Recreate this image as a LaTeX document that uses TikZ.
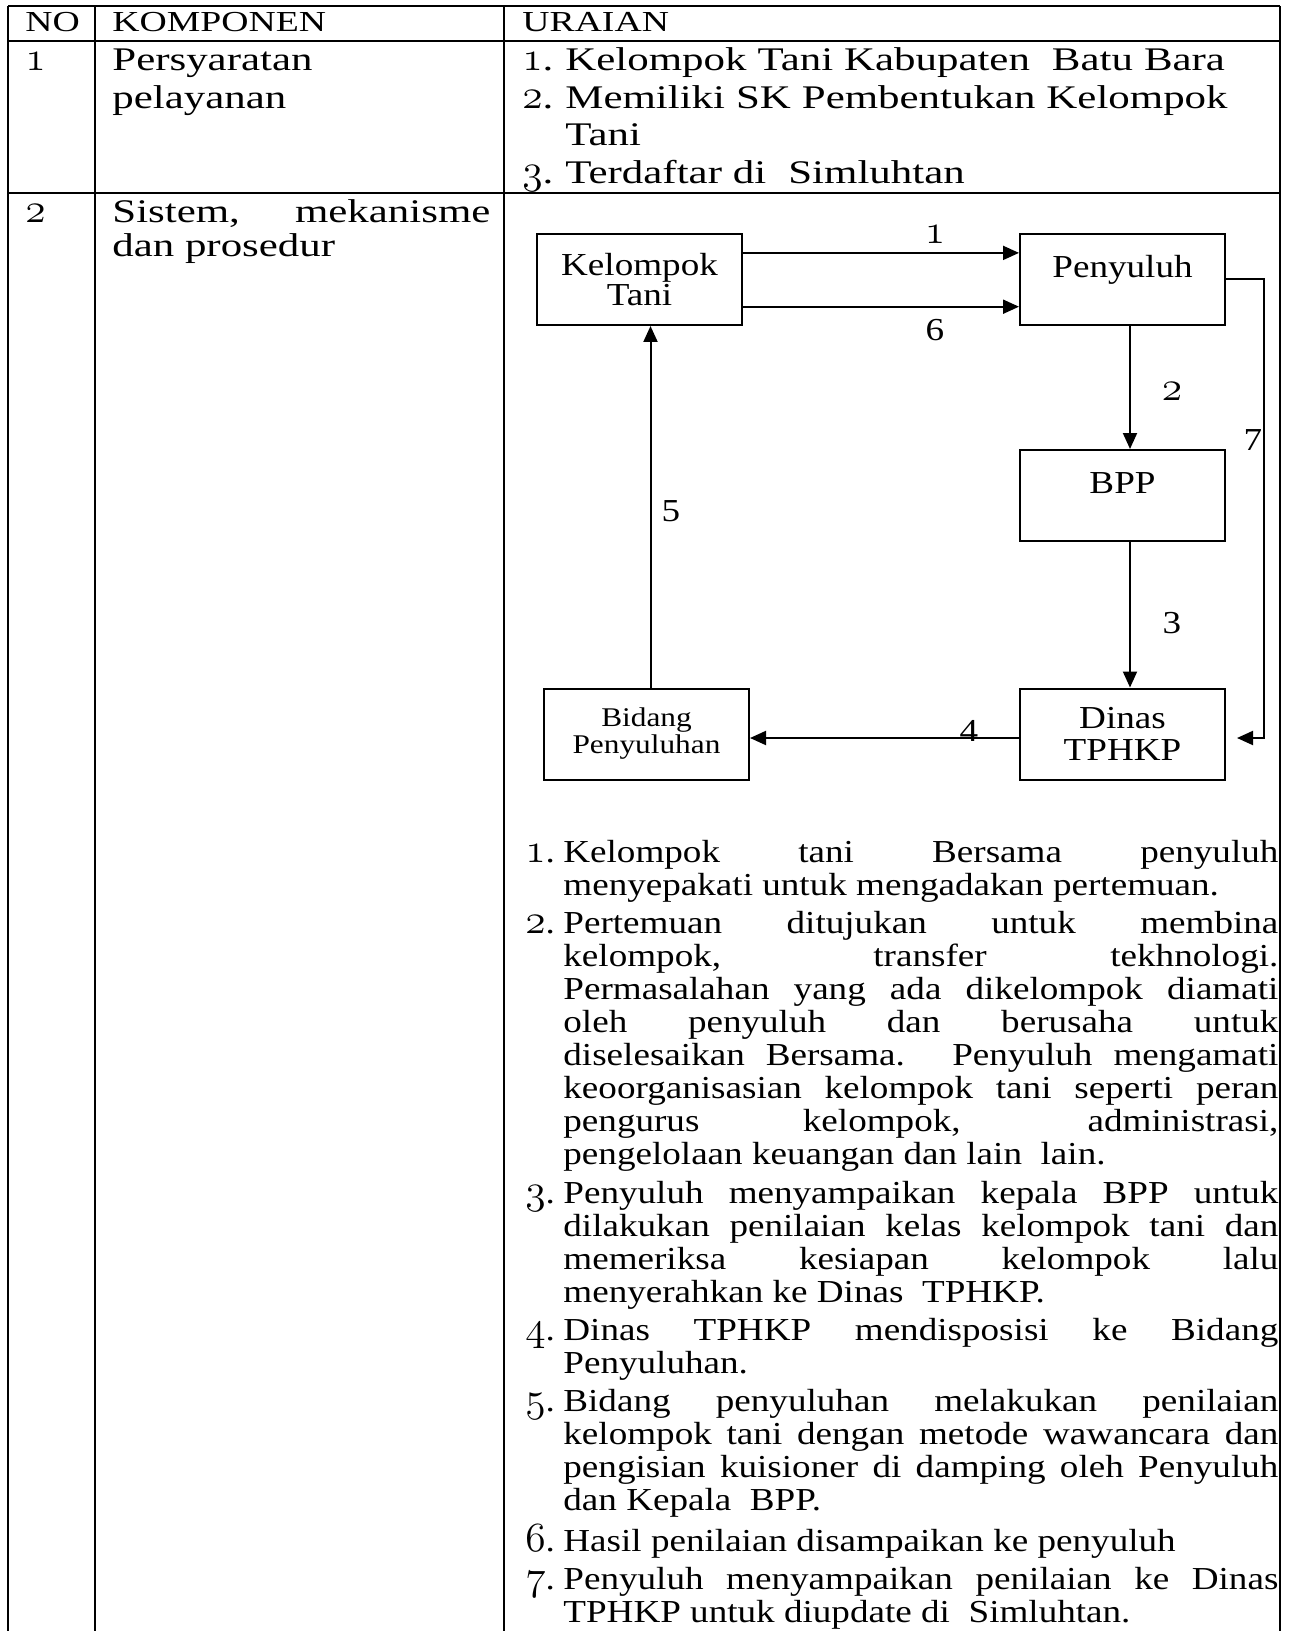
\documentclass[tikz,border=0pt]{standalone}
\usepackage{fontspec}
\setmainfont{Liberation Serif}[FakeStretch=1.16]
\newfontfamily\rowfont{Liberation Serif}[FakeStretch=1.3]
\usetikzlibrary{positioning,arrows.meta}

% old style digits (as in the original document)
\newcommand\osn[1]{{\usefont{OML}{lmm}{b}{it}\scalebox{1.2}{#1}}}
% numbered item with hanging indent
\newcommand\uitem[2][19pt]{\hangindent=#1\hangafter=1\noindent\makebox[#1][l]{\osn{#2}.}}

\tikzset{
  grid/.style={line width=1.1pt},
  box/.style={draw, line width=1pt, minimum width=102.5pt, minimum height=45.5pt,
    inner sep=0pt, align=center, font=\fontsize{16}{15}\selectfont},
  toptext/.style={text height=11pt, text depth=13pt},
  flow/.style={line width=1pt, -{Triangle[length=8pt,width=7pt]}},
  num/.style={inner sep=0pt, font=\fontsize{16}{16}\selectfont},
  cell/.style={anchor=base west, inner sep=0pt},
}

\begin{document}
\begin{tikzpicture}[x=0.5pt,y=-0.5pt]
\useasboundingbox (0,0) rectangle (1289,1631);

% table
\foreach \x in {8,95,504,1280} \draw[grid] (\x,6) -- (\x,1631);
\foreach \y in {6,41,193} \draw[grid] (8,\y) -- (1280,\y);

% header
\node[cell, font=\rowfont\fontsize{14.5}{14.5}\selectfont] (hno) at (25,32) {NO};
\node[cell, font=\rowfont\fontsize{14.5}{14.5}\selectfont] (hkomp) at (112,32) {KOMPONEN};
\node[cell, font=\rowfont\fontsize{14.5}{14.5}\selectfont] (hurai) at (522,32) {URAIAN};

% row 1
\node[cell, font=\rowfont\fontsize{16.5}{18.75}\selectfont] (no1) at (25,71) {\osn{1}};
\node[cell, text width=189pt, align=left, font=\rowfont\fontsize{16.5}{18.75}\selectfont] (komp1) at (112,71)
  {Persyaratan\\pelayanan};
\node[cell, text width=378pt, align=left, font=\rowfont\fontsize{16.5}{18.75}\selectfont] (urai1) at (522,71)
  {\uitem[21.5pt]{1}Kelompok Tani Kabupaten\ \ Batu Bara\par
   \uitem[21.5pt]{2}Memiliki SK Pembentukan Kelompok\newline Tani\par
   \uitem[21.5pt]{3}Terdaftar di\ \ Simluhtan\par};

% row 2
\node[cell, font=\rowfont\fontsize{16.5}{17}\selectfont] (no2) at (25,223) {\osn{2}};
\node[cell, text width=189pt, align=justify, font=\rowfont\fontsize{16.5}{17}\selectfont] (komp2) at (112,223)
  {Sistem, mekanisme\linebreak dan prosedur};

% flow diagram
\node[box] (kt) at (639.5,279.5) {Kelompok\\Tani};
\node[box, toptext] (py) at (1122.5,279.5) {Penyuluh};
\node[box, toptext] (bp) at (1122.5,495.5) {BPP};
\node[box, font=\fontsize{16}{16}\selectfont] (dn) at (1122.5,734) {Dinas\\TPHKP};
\node[box, font=\fontsize{13.5}{13.5}\selectfont] (bd) at (646.5,734) {Bidang\\Penyuluhan};

\draw[flow] ([yshift=13.3pt]kt.east) -- ([yshift=13.3pt]py.west);
\draw[flow] ([yshift=-13.6pt]kt.east) -- ([yshift=-13.6pt]py.west);
\draw[flow] ([xshift=3.75pt]py.south) -- ([xshift=3.75pt]bp.north);
\draw[flow] ([xshift=3.75pt]bp.south) -- ([xshift=3.75pt]dn.north);
\draw[flow] ([yshift=-2pt]dn.west) -- ([yshift=-2pt]bd.east);
\draw[flow] ([xshift=2pt]bd.north) -- ([xshift=2pt]bd.north |- kt.south);
\coordinate (c7) at (1264,279.5);
\coordinate (e7) at ([xshift=5.5pt,yshift=-2pt]dn.east);
\draw[flow] (py.east) -- (c7) |- (e7);

\node[num] (l1) at (935,235) {\osn{1}};
\node[num] (l6) at (935,330) {6};
\node[num] (l2) at (1172,392) {\osn{2}};
\node[num] (l7) at (1253,440) {7};
\node[num] (l5) at (671,511) {5};
\node[num] (l3) at (1172,623) {3};
\node[num] (l4) at (969,731) {4};

% steps
\node[cell, text width=376.5pt, align=justify, font=\fontsize{16}{16.55}\selectfont] (steps) at (525,862)
  {\parskip=2.5pt\tolerance=10000\hyphenpenalty=10000\hfuzz=20pt
   \uitem{1}Kelompok tani Bersama penyuluh\linebreak
   menyepakati untuk mengadakan pertemuan.\par
   \uitem{2}Pertemuan ditujukan untuk membina\linebreak
   kelompok, transfer tekhnologi.\linebreak
   Permasalahan yang ada dikelompok diamati\linebreak
   oleh penyuluh dan berusaha untuk\linebreak
   diselesaikan Bersama. Penyuluh mengamati\linebreak
   keoorganisasian kelompok tani seperti peran\linebreak
   pengurus kelompok, administrasi,\linebreak
   pengelolaan keuangan dan lain\ \ lain.\par
   \uitem{3}Penyuluh menyampaikan kepala BPP untuk\linebreak
   dilakukan penilaian kelas kelompok tani dan\linebreak
   memeriksa kesiapan kelompok lalu\linebreak
   menyerahkan ke Dinas\ \ TPHKP.\par
   \uitem{4}Dinas TPHKP mendisposisi ke Bidang\linebreak
   Penyuluhan.\par
   \uitem{5}Bidang penyuluhan melakukan penilaian\linebreak
   kelompok tani dengan metode wawancara dan\linebreak
   pengisian kuisioner di damping oleh Penyuluh\linebreak
   dan Kepala\ \ BPP.\par
   \uitem{6}Hasil penilaian disampaikan ke penyuluh\par
   \uitem{7}Penyuluh menyampaikan penilaian ke Dinas\linebreak
   TPHKP untuk diupdate di\ \ Simluhtan.\par};

\end{tikzpicture}
\end{document}
